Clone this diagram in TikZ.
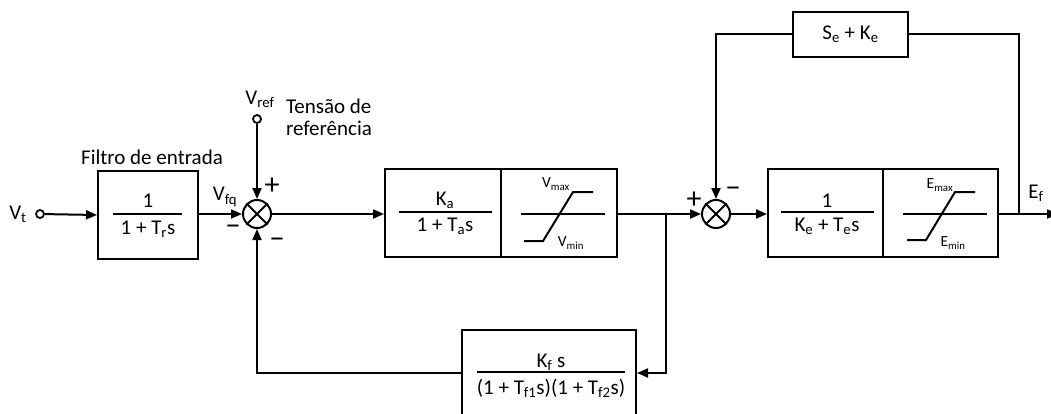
\documentclass[tikz,border=0pt]{standalone}
\usepackage{fontspec}
\setmainfont{Carlito}
\usetikzlibrary{arrows.meta}
\begin{document}
\begin{tikzpicture}[x=1pt,y=-1pt,line width=2pt,
  txt/.style={font=\fontsize{21}{24}\selectfont, inner sep=0pt},
  small/.style={font=\fontsize{15.5}{18}\selectfont, inner sep=0pt},
  sign/.style={font=\fontsize{30}{32}\selectfont, inner sep=0pt},
  blk/.style={draw, line width=2pt, inner sep=0pt},
  sumj/.style={draw, circle, line width=2pt, minimum size=28pt, inner sep=0pt},
  term/.style={draw, circle, line width=1.8pt, minimum size=8pt, inner sep=0pt},
  arr/.style={-{Triangle[length=11pt,width=9pt]}}]
\useasboundingbox (0,0) rectangle (1051,414);
\clip (0,0) rectangle (1051,414);

% blocks
\node[blk, minimum width=100pt, minimum height=87pt] (b1) at (148,215) {};
\node[blk, minimum width=116pt, minimum height=88pt] (ka) at (443,213) {};
\node[blk, minimum width=116pt, minimum height=88pt] (sat1) at (559,213) {};
\node[blk, minimum width=115pt, minimum height=88pt] (ke) at (825.5,213) {};
\node[blk, minimum width=115pt, minimum height=88pt] (esat) at (940.5,213) {};
\node[blk, minimum width=115pt, minimum height=45pt] (se) at (850.5,34.5) {};
\node[blk, minimum width=174pt, minimum height=86pt] (kf) at (549,373) {};

% block contents
\draw (113,214) -- (182,214);
\node[txt] (n1) at (148,201) {1};
\node[txt] (d1) at (148,229) {1 + T\textsubscript{r}s};
\draw (399,212) -- (492,212);
\node[txt] (nka) at (445,200) {K\textsubscript{a}};
\node[txt] (dka) at (445,226) {1 + T\textsubscript{a}s};
\draw (781,212) -- (874,212);
\node[txt] (nke) at (827,201) {1};
\node[txt] (dke) at (827,226) {K\textsubscript{e} + T\textsubscript{e}s};
\draw (477,372) -- (625,372);
\node[txt] (nkf) at (551,362) {K\textsubscript{f} s};
\node[txt] (dkf) at (551,388) {(1 + T\textsubscript{f1}s)(1 + T\textsubscript{f2}s)};
\node[txt] (sek) at (850.5,34.5) {S\textsubscript{e} + K\textsubscript{e}};

% saturations
\draw (521,214) -- (605,214);
\draw (524,241) -- (543,241) -- (573,192) -- (593,192);
\node[small] (vmax) at (556,184) {V\textsubscript{max}};
\node[small] (vmin) at (571,243) {V\textsubscript{min}};
\draw (903,214) -- (987,214);
\draw (907,240) -- (926,240) -- (955,192) -- (975,192);
\node[small] (emax) at (940,185) {E\textsubscript{max}};
\node[small] (emin) at (953,243) {E\textsubscript{min}};

% summing junctions
\node[sumj] (s1) at (257,214) {};
\draw (s1.45) -- (s1.225) (s1.135) -- (s1.315);
\node[sumj] (s2) at (716,214) {};
\draw (s2.45) -- (s2.225) (s2.135) -- (s2.315);

% terminals
\node[term] (vt) at (40,214) {};
\node[txt] (vtl) at (18,214) {V\textsubscript{t}};
\node[term] (vref) at (257,119) {};
\node[txt] (vrefl) at (260,99) {V\textsubscript{ref}};

% labels
\node[txt] (filt) at (152,157) {Filtro de entrada};
\node[txt, anchor=west] (tens) at (285,106) {Tensão de};
\node[txt, anchor=west] (refe) at (285,128) {referência};
\node[txt] (vfq) at (225,197) {V\textsubscript{fq}};
\node[txt] (efl) at (1036,193) {E\textsubscript{f}};

% signs
\node[sign] (p1) at (272,186) {+};
\node[sign] (m1) at (233,230) {−};
\node[sign] (m2) at (277,243) {−};
\node[sign] (p2) at (694,200) {+};
\node[sign] (m3) at (733,192) {−};

% connectors
\coordinate (br) at (666,214);
\coordinate (tap) at (1019,214);
\coordinate (out) at (1058,214);
\draw[arr] (vt) -- (b1.west);
\draw[arr] (b1.east |- s1) -- (s1.west);
\draw[arr] (vref) -- (s1.north);
\draw[arr] (s1.east) -- (ka.west |- s1);
\draw[arr] (sat1.east |- s2) -- (s2.west);
\draw[arr] (br) |- (kf.east);
\draw[arr] (kf.west) -| (s1.south);
\draw[arr] (s2.east) -- (ke.west |- s2);
\draw[arr] (esat.east |- s2) -- (out);
\draw (tap) |- (se.east);
\draw[arr] (se.west) -| (s2.north);
\end{tikzpicture}
\end{document}
